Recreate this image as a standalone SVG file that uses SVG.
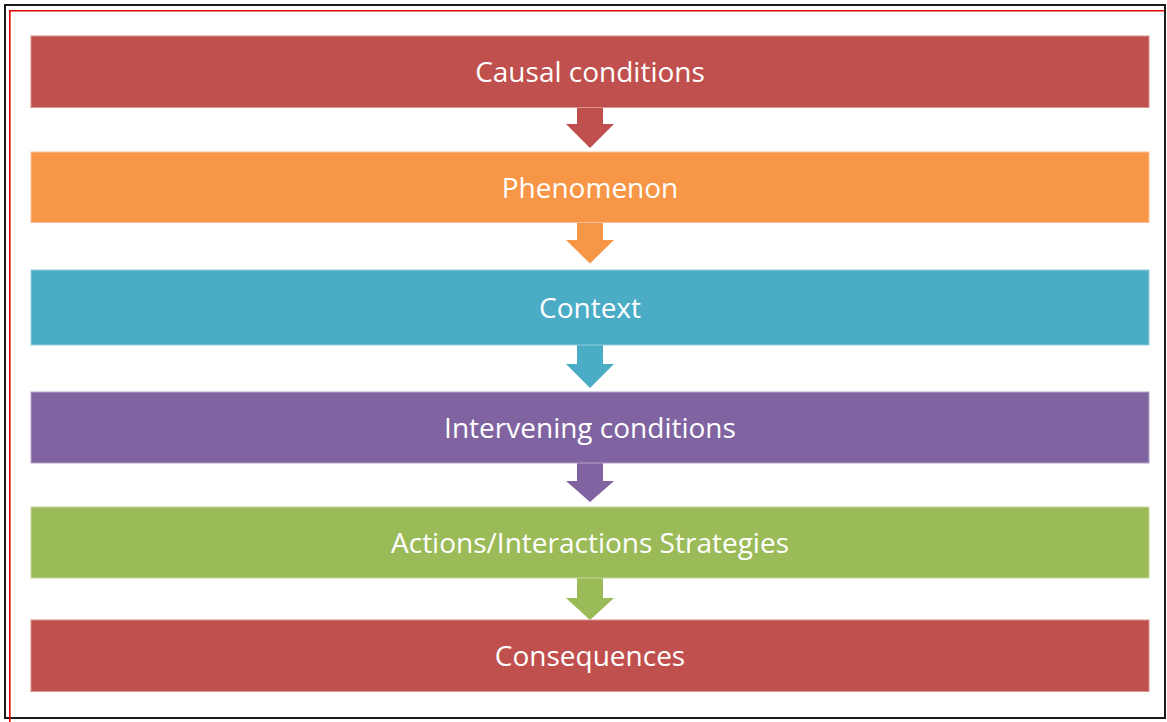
<svg xmlns="http://www.w3.org/2000/svg" width="1167" height="722" viewBox="0 0 1167 722">
  <style>
    .box { stroke-width: 1; }
    .lbl { font-family: "Open Sans", "Liberation Sans", sans-serif; font-size: 28px; fill: #ffffff; text-anchor: middle; }
    .red { fill: #C0504D; stroke: #D8928F; }
    .orange { fill: #F79646; stroke: #FAC09A; }
    .cyan { fill: #4BACC6; stroke: #93CDDD; }
    .purple { fill: #8064A2; stroke: #B3A2C7; }
    .green { fill: #9BBB59; stroke: #C3D69B; }
  </style>
  <rect x="0" y="0" width="1167" height="722" fill="#ffffff"/>
  <g id="frame">
    <rect x="5" y="5" width="1160" height="713" fill="none" stroke="#1a1a1a" stroke-width="2"/>
    <path d="M9.8 722 V10.8 H1164" fill="none" stroke="#e00000" stroke-width="1.6"/>
  </g>
  <g id="connectors">
    <path d="M577 107 H603 V124 H614 L590 148 L566 124 H577 Z" fill="#C0504D"/>
    <path d="M577 222 H603 V240 H614 L590 263.5 L566 240 H577 Z" fill="#F79646"/>
    <path d="M577 344.5 H603 V364 H614 L590 388 L566 364 H577 Z" fill="#4BACC6"/>
    <path d="M577 462.5 H603 V481 H614 L590 502 L566 481 H577 Z" fill="#8064A2"/>
    <path d="M577 577.5 H603 V598 H614 L590 620 L566 598 H577 Z" fill="#9BBB59"/>
  </g>
  <g id="n1">
    <rect class="box red" x="31" y="36" width="1118" height="71.5"/>
    <text class="lbl" x="590" y="81.5">Causal conditions</text>
  </g>
  <g id="n2">
    <rect class="box orange" x="31" y="152" width="1118" height="70.5"/>
    <text class="lbl" x="590" y="197.5">Phenomenon</text>
  </g>
  <g id="n3">
    <rect class="box cyan" x="31" y="270" width="1118" height="75"/>
    <text class="lbl" x="590" y="317.5">Context</text>
  </g>
  <g id="n4">
    <rect class="box purple" x="31" y="392" width="1118" height="71"/>
    <text class="lbl" x="590" y="437.5">Intervening conditions</text>
  </g>
  <g id="n5">
    <rect class="box green" x="31" y="507" width="1118" height="71"/>
    <text class="lbl" x="590" y="552.5">Actions/Interactions Strategies</text>
  </g>
  <g id="n6">
    <rect class="box red" x="31" y="620" width="1118" height="71.5"/>
    <text class="lbl" x="590" y="665.5">Consequences</text>
  </g>
</svg>
